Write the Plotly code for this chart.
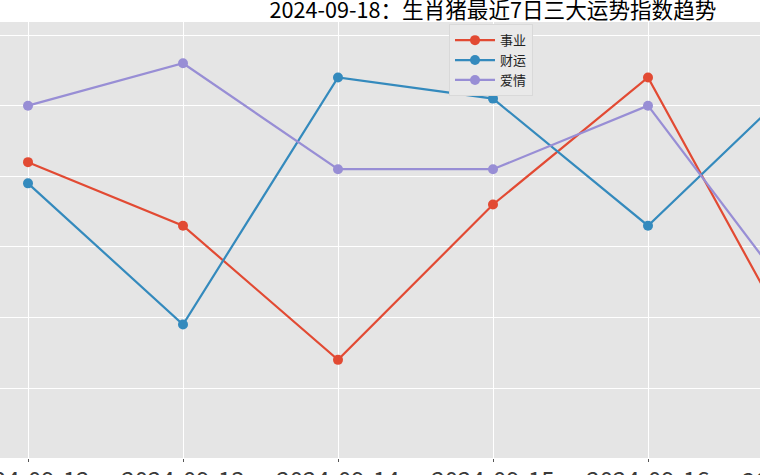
import plotly.graph_objects as go

dates = ["2024-09-12", "2024-09-13", "2024-09-14", "2024-09-15", "2024-09-16", "2024-09-17"]
career = [72, 63, 44, 66, 84, 44]
wealth = [69, 49, 84, 81, 63, 84]
love = [80, 86, 71, 71, 80, 51]

names = ["事业", "财运", "爱情"]
colors = ["#E24A33", "#348ABD", "#988ED5"]

fig = go.Figure()
for name, vals, c in zip(names, [career, wealth, love], colors):
    fig.add_trace(go.Scatter(
        x=list(range(len(dates))), y=vals, name=name, mode="lines+markers",
        line=dict(color=c, width=2.2), marker=dict(color=c, size=10),
    ))

xr = [-28 / 155, 732 / 155]
tickfont = dict(size=24, color="#3a3a3a")

fig.update_layout(
    width=760, height=475,
    margin=dict(l=0, r=0, t=22, b=17),
    paper_bgcolor="white", plot_bgcolor="#E5E5E5",
    font=dict(family="Noto Sans CJK SC", color="#333333"),
    title=dict(text="2024-09-18：生肖猪最近7日三大运势指数趋势",
               x=493 / 760, xanchor="center", xref="container",
               y=1 - 10 / 475, yanchor="middle", yref="container",
               font=dict(size=21.6, color="black")),
    legend=dict(x=449 / 760, y=0.995, xanchor="left", yanchor="top",
                bgcolor="#E9E9E9", bordercolor="#D9D9D9", borderwidth=1,
                itemwidth=40, tracegroupgap=0,
                font=dict(size=13, color="#222222")),
    showlegend=True,
)
fig.update_xaxes(
    tickmode="array", tickvals=list(range(len(dates))), ticktext=dates,
    range=xr, showgrid=True, gridcolor="white", gridwidth=1.2,
    zeroline=False, ticks="outside", ticklen=3, tickcolor="#555555",
    tickfont=tickfont, ticklabeloverflow="allow", ticklabelstandoff=-2,
    automargin=False,
)
fig.update_yaxes(
    range=[30.1, 91.85], dtick=10, showgrid=True, gridcolor="white", gridwidth=1.2,
    zeroline=False, showticklabels=False, automargin=False,
)

# last date sits past the right edge of the visible axis; only its first digits show
last = len(dates) - 1
fig.add_annotation(text=dates[last], xref="paper", yref="paper",
                   x=(last - xr[0]) / (xr[1] - xr[0]), y=0, xanchor="center", yanchor="top",
                   showarrow=False, font=tickfont, yshift=-2)

# page body has a default 8px margin; drop it so the figure sits at 0,0
fig.write_html("out.html", config={"displayModeBar": False},
               post_script="document.body.style.margin='0';document.body.style.overflow='hidden';")
